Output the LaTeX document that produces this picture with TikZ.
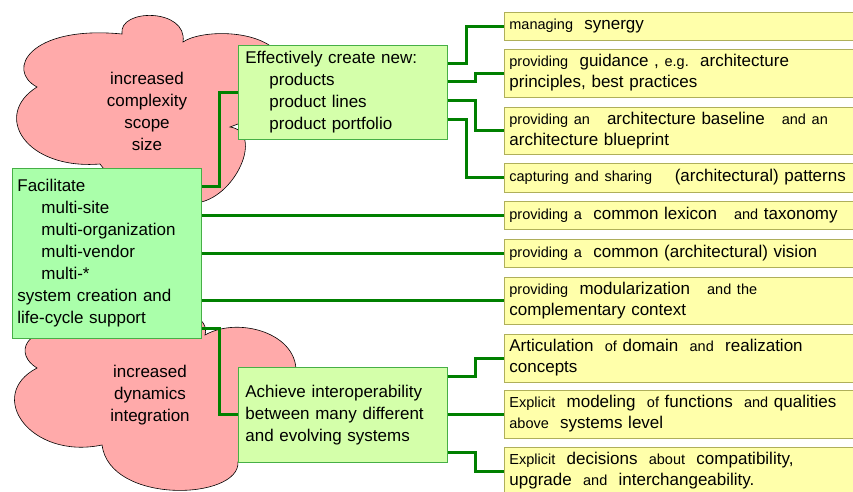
\documentclass[tikz,border=0pt]{standalone}
\usepackage{fontspec}
\setmainfont{Liberation Sans}
\usetikzlibrary{calc}

\definecolor{cloudred}{RGB}{255,170,170}
\definecolor{facgreen}{RGB}{170,255,170}
\definecolor{palegreen}{RGB}{212,255,170}
\definecolor{paleyellow}{RGB}{255,255,170}
\definecolor{linkgreen}{RGB}{0,128,0}
\definecolor{boxgreen}{RGB}{70,175,70}
\definecolor{boxolive}{RGB}{175,175,90}

\newcommand\sm[1]{{\fontsize{14.5}{21}\selectfont #1}}
\newcommand\ind{\hspace*{24pt}}

\begin{document}
\begin{tikzpicture}[x=1pt,y=-1pt,
	big/.style={font=\fontsize{17}{22}\selectfont},
	goal/.style={big,draw=boxgreen,fill=palegreen,line width=0.8pt,anchor=north west,align=left,inner xsep=7pt,inner ysep=0pt,text width=195pt,minimum width=209pt},
	means/.style={font=\fontsize{17}{21}\selectfont,draw=boxolive,fill=paleyellow,line width=0.8pt,anchor=west,align=left,inner xsep=5pt,inner ysep=0pt,text width=350pt},
	link/.style={draw=linkgreen,line width=3pt},
	puff/.style={draw=black,fill=cloudred,line width=0.6pt}]

\useasboundingbox (0,0) rectangle (853,491);

% clouds
\draw[puff] (37,87) .. controls (5,70) and (30,25) .. (122,34)
	.. controls (118,8) and (188,8) .. (183,42)
	.. controls (200,30) and (260,28) .. (280,55)
	.. controls (295,80) and (280,120) .. (238,124)
	-- (230,127)
	.. controls (265,132) and (235,200) .. (195,203)
	.. controls (150,205) and (115,185) .. (100,164)
	.. controls (25,170) and (-8,115) .. (37,87) -- cycle;
\node[big,align=center,inner sep=0pt] (cplx) at (147,111) {increased\\complexity\\scope\\size};

\draw[puff] (37,368) .. controls (15,355) and (20,325) .. (80,328)
	.. controls (100,295) and (215,300) .. (205,335)
	.. controls (240,315) and (305,335) .. (295,380)
	.. controls (320,410) and (290,460) .. (238,462)
	.. controls (240,500) and (110,505) .. (102,445)
	.. controls (30,460) and (-15,395) .. (37,368) -- cycle;
\node[big,align=center,inner sep=0pt] (dyn) at (150,395) {increased\\dynamics\\integration};

% goals
\node[goal,fill=facgreen,text width=179pt,minimum width=189pt,inner xsep=5pt,minimum height=170pt] (fac) at (12,168)
	{Facilitate\\ \ind multi-site\\ \ind multi-organization\\ \ind multi-vendor\\ \ind multi-*\\ system creation and\\ life-cycle support};
\node[goal,minimum height=94pt] (create) at (238,45)
	{Effectively create new:\\ \ind products\\ \ind product lines\\ \ind product portfolio};
\node[goal,minimum height=95pt] (achieve) at (238,367)
	{Achieve interoperability\\ between many different\\ and evolving systems};

% means
\node[means,minimum height=28pt] (syn) at (504,26) {\sm{managing}~~synergy};
\node[means,minimum height=48pt] (guid) at (504,73) {\sm{providing}~~guidance , \sm{e.g.}~~architecture\\ principles, best practices};
\node[means,minimum height=47pt] (base) at (504,130.5) {\sm{providing an}~~~architecture baseline~~~\sm{and an}\\ architecture blueprint};
\node[means,minimum height=29pt] (patt) at (504,177.5) {\sm{capturing and sharing}~~~~(architectural) patterns};
\node[means,minimum height=28pt] (lex) at (504,215) {\sm{providing a}~~common lexicon~~~\sm{and}~taxonomy};
\node[means,minimum height=28pt] (vis) at (504,253) {\sm{providing a}~~common (architectural) vision};
\node[means,minimum height=47pt] (modul) at (504,300.5) {\sm{providing}~~modularization~~~\sm{and the}\\ complementary context};
\node[means,minimum height=48pt] (artic) at (504,358) {Articulation~~\sm{of} domain~~\sm{and}~~realization\\ concepts};
\node[means,minimum height=48pt] (model) at (504,414) {\sm{Explicit}~~modeling~~\sm{of} functions~~\sm{and} qualities\\ \sm{above}~~systems level};
\node[means,minimum height=48pt] (decis) at (504,471) {\sm{Explicit}~~decisions~~\sm{about}~~compatibility,\\ upgrade~~\sm{and}~~interchangeability.};

% links
\draw[link] ($(fac.north east)!0.11!(fac.south east)$) -- ++(18,0) |- (create.west);
\draw[link] (fac.east |- lex.west) -- (lex.west);
\draw[link] (fac.east |- vis.west) -- (vis.west);
\draw[link] (fac.east |- modul.west) -- (modul.west);
\draw[link] ($(fac.north east)!0.94!(fac.south east)$) -- ++(18,0) |- (achieve.west);

\foreach \f/\t/\d in {0.19/syn/19,0.39/guid/28,0.585/base/28,0.79/patt/19}{
	\draw[link] ($(create.north east)!\f!(create.south east)$) -- ++(\d,0) |- (\t.west);
}

\draw[link] ($(achieve.north east)!0.095!(achieve.south east)$) -- ++(28,0) |- (artic.west);
\draw[link] (achieve.east |- model.west) -- (model.west);
\draw[link] ($(achieve.north east)!0.895!(achieve.south east)$) -- ++(28,0) |- (decis.west);

\end{tikzpicture}
\end{document}
